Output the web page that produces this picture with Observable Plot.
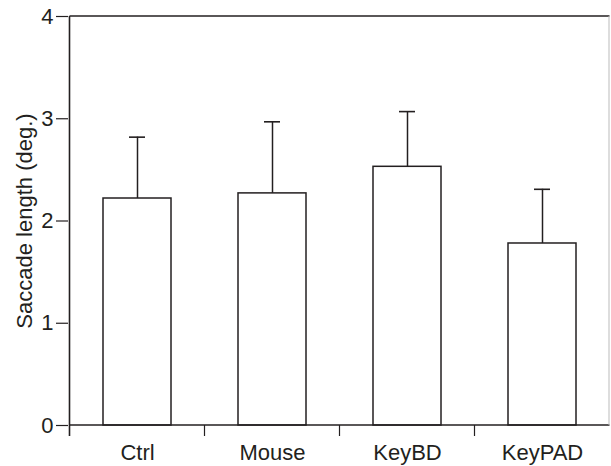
<!DOCTYPE html>
<html>
<head>
<meta charset="utf-8">
<script src="https://cdn.jsdelivr.net/npm/d3@7"></script>
<script src="https://cdn.jsdelivr.net/npm/@observablehq/plot@0.6"></script>
<style>
  html, body { margin: 0; padding: 0; background: #fff; }
  #chart { width: 611px; height: 466px; }
</style>
</head>
<body>
<div id="chart"></div>
<script>
const categories = ["Ctrl", "Mouse", "KeyBD", "KeyPAD"];
const means = [2.22, 2.27, 2.53, 1.78];
const errTops = [2.82, 2.97, 3.07, 2.31];
const yTicks = [0, 1, 2, 3, 4];
const yLabel = "Saccade length (deg.)";

const data = categories.map((c, i) => ({cat: c, value: means[i], top: errTops[i]}));
const ink = "#231f20";

function frameMark(index, scales, values, dimensions) {
  const {x, y} = scales;
  const centers = categories.map(c => x(c) + (x.bandwidth ? x.bandwidth() / 2 : 0));
  const step = centers[1] - centers[0];
  const bounds = [centers[0] - step / 2, ...centers.slice(0, -1).map((c, i) => (c + centers[i + 1]) / 2), centers[centers.length - 1] + step / 2];
  const y0 = y(yTicks[0]), y4 = y(yTicks[yTicks.length - 1]);
  const left = bounds[0], right = bounds[bounds.length - 1];
  const g = d3.create("svg:g").attr("fill", "none").attr("stroke", ink).attr("stroke-width", 1.6);
  g.append("line").attr("x1", left).attr("x2", right).attr("y1", y4).attr("y2", y4);
  g.append("line").attr("x1", left).attr("x2", right).attr("y1", y0).attr("y2", y0);
  g.append("line").attr("x1", right - 0.5).attr("x2", right - 0.5).attr("y1", y4).attr("y2", y0).attr("stroke", "#bbb").attr("stroke-width", 1);
  g.append("line").attr("x1", left).attr("x2", left).attr("y1", y4).attr("y2", y0 + 11);
  bounds.slice(1, -1).forEach(b => {
    g.append("line").attr("x1", b).attr("x2", b).attr("y1", y0).attr("y2", y0 + 11).attr("stroke-width", 1.2);
  });
  return g.node();
}

const chart = Plot.plot({
  width: 611,
  height: 466,
  marginLeft: 68,
  marginRight: 1,
  marginTop: 16,
  marginBottom: 41,
  style: {fontFamily: "'Liberation Sans', Arial, sans-serif", fontSize: "22px", color: ink, background: "#fff"},
  x: {domain: categories, paddingInner: 0.5, paddingOuter: 0.25, label: null},
  y: {domain: [0, 4], label: null},
  marks: [
    Plot.barY(data, {x: "cat", y: "value", fill: "white", stroke: ink, strokeWidth: 1.5}),
    Plot.ruleX(data, {x: "cat", y1: "value", y2: "top", stroke: ink, strokeWidth: 1.5}),
    Plot.tickY(data, {x: "cat", y: "top", insetLeft: 26, insetRight: 26, stroke: ink, strokeWidth: 1.6}),
    frameMark,
    Plot.axisY({ticks: yTicks, tickSize: 12, tickPadding: 3, tickFormat: d3.format("d"), label: null, fontSize: 22, stroke: ink, strokeWidth: 1.2}),
    Plot.axisX({tickSize: 0, tickPadding: 19, label: null, fontSize: 22}),
    Plot.text([yLabel], {frameAnchor: "left", textAnchor: "middle", rotate: -90, dx: -44, fontSize: 22, fill: ink})
  ]
});
document.getElementById("chart").append(chart);
</script>
</body>
</html>
